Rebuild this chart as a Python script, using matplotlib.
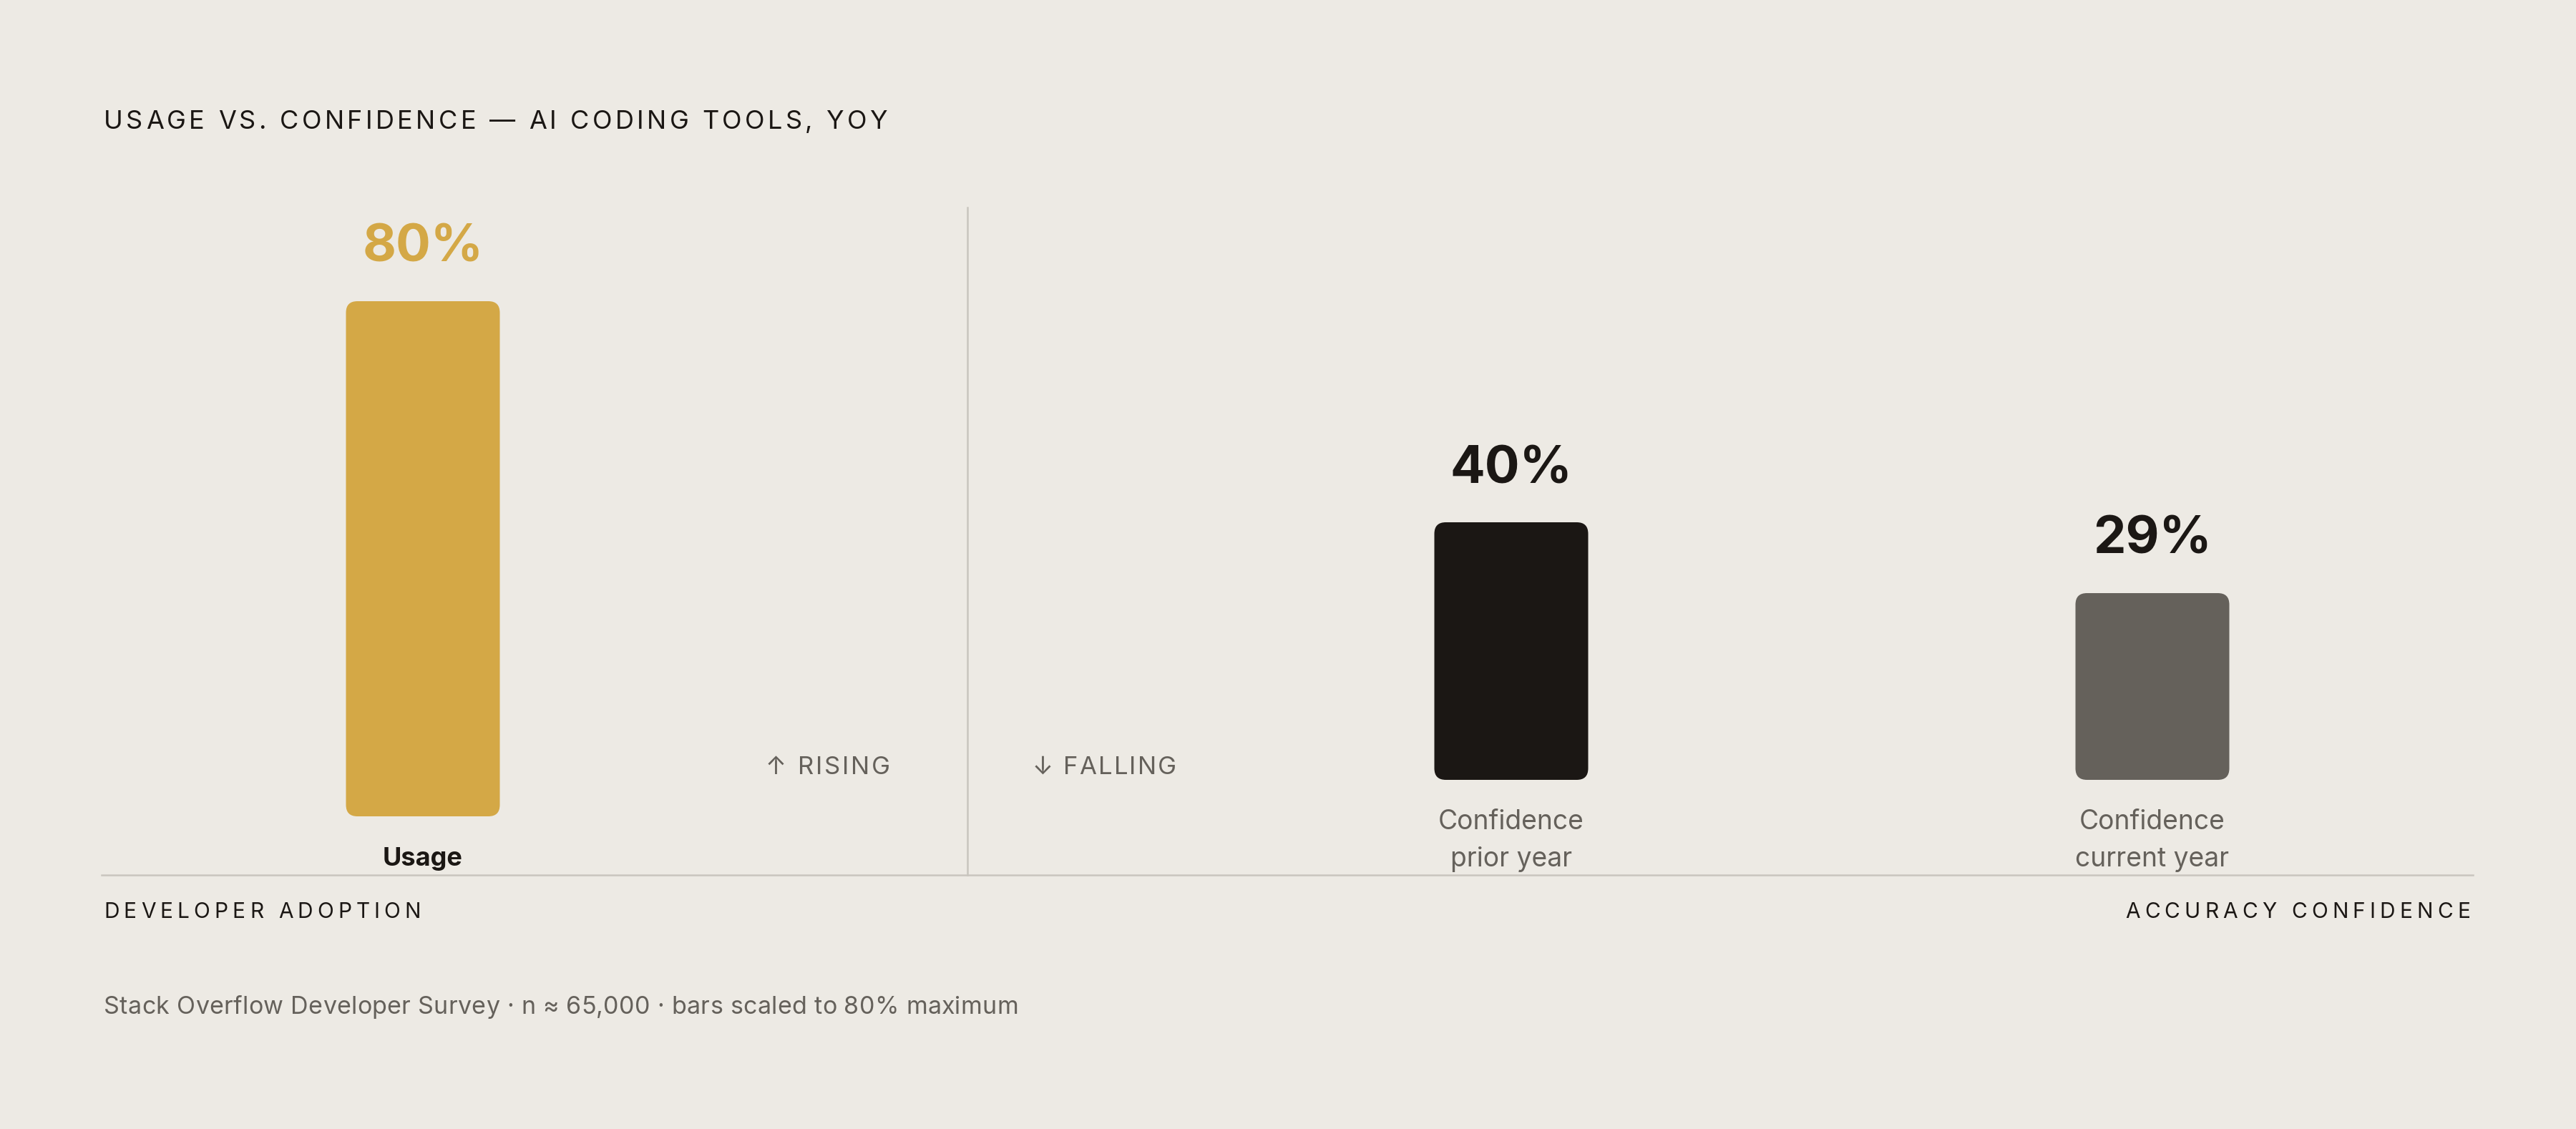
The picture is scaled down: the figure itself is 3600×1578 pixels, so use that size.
import matplotlib
matplotlib.use('Agg')
import matplotlib.pyplot as plt
from matplotlib.patches import FancyBboxPatch
from matplotlib.lines import Line2D

# ---------------- data ----------------
title = 'USAGE VS. CONFIDENCE — AI CODING TOOLS, YOY'
left_categories = ['Usage']
left_values = [80]
right_categories = ['Confidence\nprior year', 'Confidence\ncurrent year']
right_values = [40, 29]
rising_label = '↑ RISING'
falling_label = '↓ FALLING'
left_axis_label = 'DEVELOPER ADOPTION'
right_axis_label = 'ACCURACY CONFIDENCE'
footnote = 'Stack Overflow Developer Survey · n ≈ 65,000 · bars scaled to 80% maximum'

# ---------------- style ----------------
W, H, DPI = 3600, 1578, 100
BG = '#EDEAE4'
INK = '#1B1714'
MUTED = '#65615B'
RULE = '#C9C5BE'
GOLD = '#D4A846'
left_colors = [GOLD]
left_value_colors = [GOLD]
right_colors = [INK, '#65615B']
right_value_colors = [INK, INK]

plt.rcParams['font.family'] = ['Inter', 'DejaVu Sans']

fig = plt.figure(figsize=(W / DPI, H / DPI), dpi=DPI)
fig.patch.set_facecolor(BG)

PX_X = 896.0   # pixels per category unit
PX_Y = 9.0     # pixels per percentage point
BAR_W = 215.0 / PX_X
RADIUS = 16.0 / PX_X
PT = 72.0 / DPI


def fx(x):
    return x / W


def fy(y):
    return 1 - y / H


def make_axes(left_px, right_px, base_px, first_center_px):
    ax = fig.add_axes([fx(left_px), fy(base_px), (right_px - left_px) / W, 100 * PX_Y / H])
    ax.set_xlim(-(first_center_px - left_px) / PX_X, -(first_center_px - left_px) / PX_X + (right_px - left_px) / PX_X)
    ax.set_ylim(0, 100)
    ax.axis('off')
    ax.patch.set_alpha(0)
    return ax


ax_l = make_axes(142, 1352, 1141, 591)
ax_r = make_axes(1352, 3456, 1090, 2112)


def draw_bars(ax, cats, vals, colors, vcolors, cat_bold, cat_color, cat_size):
    bars = ax.bar(range(len(vals)), vals, width=BAR_W)
    for i, (rect, v) in enumerate(zip(bars, vals)):
        x, y = rect.get_x(), rect.get_y()
        w, h = rect.get_width(), rect.get_height()
        rect.set_visible(False)
        p = FancyBboxPatch((x, y), w, h,
                           boxstyle=f'round,pad=0,rounding_size={RADIUS}',
                           mutation_aspect=PX_X / PX_Y,
                           fc=colors[i], ec='none', clip_on=False)
        ax.add_patch(p)
        ax.annotate(f'{v}%', xy=(i, v), xytext=(0, 55 * PT), textcoords='offset points',
                    ha='center', va='baseline', fontsize=52, fontweight='bold',
                    color=vcolors[i], annotation_clip=False)
        for j, line in enumerate(cats[i].split('\n')):
            ax.annotate(line, xy=(i, 0), xytext=(0, -(69 + 52 * j) * PT),
                        textcoords='offset points', ha='center', va='baseline',
                        fontsize=cat_size, fontweight='bold' if cat_bold else 'normal',
                        color=cat_color, annotation_clip=False)


draw_bars(ax_l, left_categories, left_values, left_colors, left_value_colors, True, INK, 26)
draw_bars(ax_r, right_categories, right_values, right_colors, right_value_colors, False, MUTED, 26.8)

renderer = fig.canvas.get_renderer()


def text_w(s, **kw):
    t = fig.text(0, 0, s, **kw)
    bb = t.get_window_extent(renderer)
    t.remove()
    return bb.width


def spaced(s, x0, x1, y, **kw):
    base = text_w('||', **kw)
    ws = [text_w('|' + c + '|', **kw) - base for c in s]
    gap = (x1 - x0 - sum(ws)) / (len(s) - 1)
    x = x0
    for c, cw in zip(s, ws):
        fig.text(fx(x), fy(y), c, ha='left', va='baseline', **kw)
        x += cw + gap


spaced(title, 145, 1240, 180, fontsize=26, color=INK)
spaced(rising_label, 1070, 1244, 1082, fontsize=25, color=MUTED)
spaced(falling_label, 1443, 1644, 1082, fontsize=25, color=MUTED)
spaced(left_axis_label, 145, 588, 1283, fontsize=21.5, color=INK)
spaced(right_axis_label, 2970, 3452, 1283, fontsize=21.5, color=INK)
spaced(footnote, 145, 1423, 1417, fontsize=24.5, color=MUTED)

# rules
fig.add_artist(Line2D([fx(1352), fx(1352)], [fy(290), fy(1223)], color=RULE, lw=1.8))
fig.add_artist(Line2D([fx(142), fx(3456)], [fy(1223), fy(1223)], color=RULE, lw=1.8))

fig.savefig('out.png', dpi=DPI, facecolor=BG)
